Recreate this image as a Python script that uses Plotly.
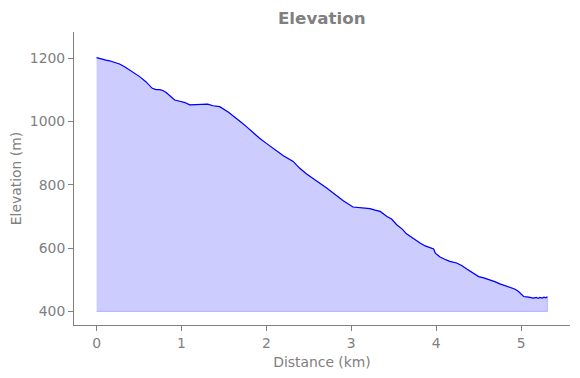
import plotly.graph_objects as go

distance_km = [0.0, 0.04, 0.075, 0.11, 0.153, 0.2, 0.27, 0.33, 0.39, 0.45, 0.507, 0.58, 0.656, 0.7, 0.743,
               0.78, 0.82, 0.87, 0.92, 0.98, 1.04, 1.097, 1.175, 1.25, 1.31, 1.37, 1.45, 1.55, 1.65, 1.71,
               1.765, 1.84, 1.92, 2.0, 2.08, 2.2, 2.315, 2.39, 2.47, 2.55, 2.63, 2.71, 2.79, 2.905, 3.02,
               3.12, 3.22, 3.28, 3.34, 3.42, 3.475, 3.535, 3.6, 3.65, 3.73, 3.81, 3.87, 3.92, 3.97, 3.99,
               4.045, 4.1, 4.16, 4.24, 4.3, 4.36, 4.43, 4.5, 4.56, 4.63, 4.69, 4.75, 4.87, 4.93, 4.97,
               5.0, 5.03, 5.09, 5.145, 5.18, 5.2, 5.22, 5.25, 5.27, 5.29, 5.31]
elevation_m = [1202, 1199, 1195, 1194, 1192, 1188, 1182, 1173, 1163, 1153, 1142, 1126, 1105, 1101, 1101,
               1098, 1092, 1080, 1068, 1064, 1060, 1053, 1053, 1055, 1055, 1050, 1047, 1030, 1007, 996,
               984, 966, 947, 931, 916, 892, 874, 853, 835, 821, 805, 790, 774, 750, 730,
               728, 725, 720, 716, 700, 692, 674, 660, 645, 630, 616, 607, 602, 597, 584,
               572, 565, 558, 553, 545, 534, 522, 510, 506, 500, 494, 487, 477, 470, 463,
               455, 447, 445, 442, 444, 441, 444, 442, 445, 443, 446]
BASE_M = 400

x_poly = distance_km + [distance_km[-1], distance_km[0]]
y_poly = elevation_m + [BASE_M, BASE_M]

fig = go.Figure()
fig.add_trace(go.Scatter(x=x_poly, y=y_poly, mode="lines", fill="toself",
                         fillcolor="rgba(0,0,255,0.2)", line=dict(color="rgba(0,0,255,0.22)", width=1),
                         hoverinfo="skip", showlegend=False))
fig.add_trace(go.Scatter(x=distance_km, y=elevation_m, mode="lines",
                         line=dict(color="blue", width=1.2), showlegend=False))

axis_common = dict(showline=True, linecolor="#808080", linewidth=1, ticks="outside", ticklen=5,
                   tickcolor="#808080", tickwidth=1, showgrid=False, zeroline=False, mirror=False,
                   automargin=False,
                   tickfont=dict(family="DejaVu Sans", size=13.9, color="#808080"))
fig.update_layout(
    width=580, height=378,
    margin=dict(l=66, r=18, t=24, b=61),
    paper_bgcolor="white", plot_bgcolor="white",
    font=dict(family="DejaVu Sans", color="#808080", size=13.9),
    title=dict(text="Elevation", x=0.541, xanchor="center", y=0.9735, yanchor="middle",
               font=dict(family="DejaVu Sans", size=16.7, color="#808080", weight="bold")),
    xaxis=dict(range=[-0.266, 5.576], tickvals=[0, 1, 2, 3, 4, 5],
               title=dict(text="Distance (km)", font=dict(size=13.9, color="#808080"), standoff=7),
               **axis_common),
    yaxis=dict(range=[357, 1283], tickvals=[400, 600, 800, 1000, 1200],
               title=dict(text="Elevation (m)", font=dict(size=13.9, color="#808080"), standoff=7),
               **axis_common),
)
fig.write_html("out.html")
